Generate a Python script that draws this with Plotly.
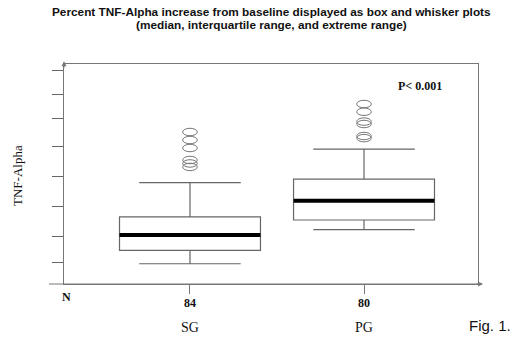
import plotly.graph_objects as go

# ---- data (arbitrary TNF-Alpha units) ----
groups = ["SG", "PG"]
n_counts = [84, 80]
lower_fence = [0.76, 2.04]
q1 = [1.26, 2.40]
median = [1.84, 3.12]
q3 = [2.52, 3.93]
upper_fence = [3.80, 5.06]
outliers_sg = [5.70, 5.40, 5.10, 4.65, 4.52, 4.39]
outliers_pg = [6.75, 6.46, 6.09, 6.00, 5.55, 5.47]
y_tickvals = [0.79, 1.80, 2.92, 4.05, 5.17, 6.19, 7.09, 7.99]
p_text = "P< 0.001"
title_lines = ["Percent TNF-Alpha increase from baseline displayed as box and whisker plots",
               "(median, interquartile range, and extreme range)"]

xpos = [1, 2]
outliers = [outliers_sg, outliers_pg]
XMIN, XMAX = 0.276, 2.655
YMIN, YMAX = 0.0, 8.25
BOXW = 0.81

fig = go.Figure()
fig.add_trace(go.Box(
    x=xpos, q1=q1, median=median, q3=q3,
    lowerfence=lower_fence, upperfence=upper_fence,
    width=BOXW, whiskerwidth=0.72,
    fillcolor="rgba(255,255,255,0)",
    line=dict(color="#666666", width=1.2),
    boxpoints=False, showlegend=False, hoverinfo="skip"))

# thick median bars
mx, my = [], []
for x, m in zip(xpos, median):
    mx += [x - BOXW / 2, x + BOXW / 2, None]
    my += [m, m, None]
fig.add_trace(go.Scatter(x=mx, y=my, mode="lines",
                         line=dict(color="black", width=4),
                         showlegend=False, hoverinfo="skip"))

# outliers as open ellipses
shapes = []
ew, eh = 0.042, 0.14
for x, outs in zip(xpos, outliers):
    for v in outs:
        shapes.append(dict(type="circle", xref="x", yref="y",
                           x0=x - ew, x1=x + ew, y0=v - eh, y1=v + eh,
                           line=dict(color="#777777", width=1)))

# extended bottom axis line
pw = 517 - 64 - 39
ph = 220
shapes.append(dict(type="line", xref="paper", yref="paper",
                   x0=(49 - 64) / pw, x1=(482 - 64) / pw, y0=0, y1=0,
                   line=dict(color="#777777", width=1)))

annotations = []
# arrowheads
annotations.append(dict(xref="paper", yref="paper", x=(483 - 64) / pw, y=0,
                        ax=-8, ay=0, text="", showarrow=True, arrowhead=2,
                        arrowsize=1, arrowwidth=1, arrowcolor="#777777"))
annotations.append(dict(xref="paper", yref="paper", x=0, y=1.012,
                        ax=0, ay=8, text="", showarrow=True, arrowhead=2,
                        arrowsize=1, arrowwidth=1, arrowcolor="#777777"))

# N label and counts / group names
annotations.append(dict(xref="paper", yref="paper", x=(66 - 64) / pw, y=0, yshift=-13,
                        xanchor="center", yanchor="middle",
                        text="<b>N</b>", showarrow=False,
                        font=dict(family="Liberation Serif", size=12, color="#111")))
for x, n, g in zip(xpos, n_counts, groups):
    annotations.append(dict(xref="x", yref="paper", x=x, y=0, yshift=-19,
                            xanchor="center", yanchor="middle",
                            text=f"<b>{n}</b>", showarrow=False,
                            font=dict(family="Liberation Serif", size=12, color="#111")))
    annotations.append(dict(xref="x", yref="paper", x=x, y=0, yshift=-43,
                            xanchor="center", yanchor="middle",
                            text=g, showarrow=False,
                            font=dict(family="Liberation Serif", size=14, color="#111")))

annotations.append(dict(xref="paper", yref="paper", x=(490 - 64) / pw, y=0,
                        yshift=-41, xanchor="center", yanchor="middle",
                        text="Fig. 1.", showarrow=False,
                        font=dict(family="Liberation Sans", size=15, color="#111")))
annotations.append(dict(xref="x", yref="y", x=2.32, y=7.42, text=f"<b>{p_text}</b>",
                        showarrow=False,
                        font=dict(family="Liberation Serif", size=12, color="#111")))
annotations.append(dict(xref="paper", yref="paper", x=(17 - 64) / pw, y=(284 - 176) / ph,
                        xanchor="center", yanchor="middle",
                        text="TNF-Alpha", textangle=-90, showarrow=False,
                        font=dict(family="Liberation Serif", size=13, color="#111")))
for i, (line, ypx) in enumerate(zip(title_lines, [12.5, 24.5])):
    annotations.append(dict(xref="paper", yref="paper", x=(271 - 64) / pw,
                            y=(284 - ypx) / ph, xanchor="center", yanchor="middle",
                            text=f"<b>{line}</b>", showarrow=False,
                            font=dict(family="Liberation Sans", size=11.8, color="#111")))

fig.update_layout(
    width=517, height=340,
    margin=dict(l=64, r=39, t=64, b=56),
    paper_bgcolor="white", plot_bgcolor="white",
    shapes=shapes, annotations=annotations,
    xaxis=dict(range=[XMIN, XMAX], showgrid=False, zeroline=False,
               showline=True, mirror=True, linecolor="#777777", linewidth=1,
               tickvals=xpos, ticktext=["", ""], ticks="outside", ticklen=9,
               tickcolor="#777777", showticklabels=False),
    yaxis=dict(range=[YMIN, YMAX], showgrid=False, zeroline=False,
               showline=True, mirror=True, linecolor="#777777", linewidth=1,
               tickvals=y_tickvals, ticks="outside", ticklen=11,
               tickcolor="#666666", showticklabels=False),
)

fig.write_html("out.html", config={"displayModeBar": False},
               post_script="document.body.style.margin='0';")
